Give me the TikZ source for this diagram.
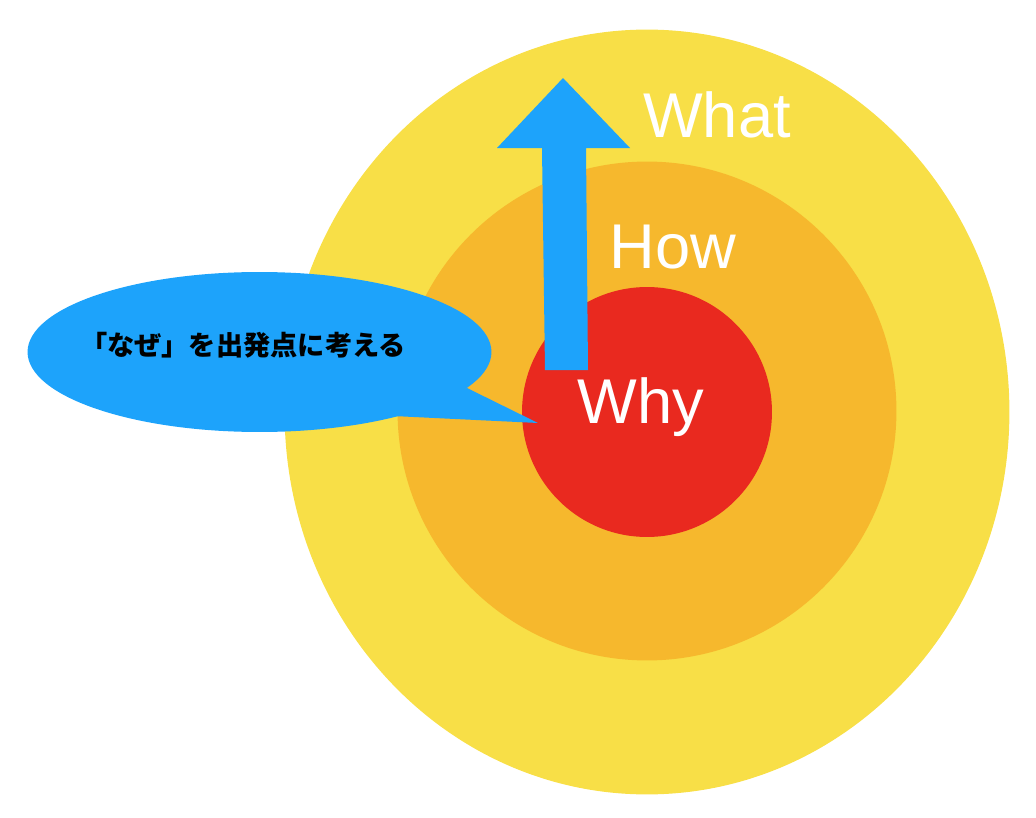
\documentclass[tikz,border=0pt]{standalone}
\usepackage{fontspec}
\setmainfont{Liberation Sans}
\newfontfamily\jpfont{Noto Sans CJK JP}
\usetikzlibrary{shapes.geometric}
\definecolor{ringyellow}{HTML}{F8DF47}
\definecolor{ringorange}{HTML}{F6B82D}
\definecolor{ringred}{HTML}{E9291F}
\definecolor{bubbleblue}{HTML}{1DA3FB}

\begin{document}
\begin{tikzpicture}[
    x=0.02cm, y=-0.02cm,
    ring/.style={circle, inner sep=0pt},
    ringtext/.style={text=white, font=\fontsize{36}{42}\selectfont, anchor=base, inner sep=0pt}
]
  \useasboundingbox (0,0) rectangle (1036,818);

  % Rings (outside in)
  \node[ellipse, fill=ringyellow, inner sep=0pt, minimum width=14.5cm, minimum height=15.3cm] (what) at (647,412) {};
  \node[ring, fill=ringorange, minimum size=9.98cm] (how) at (647,411) {};
  \node[ring, fill=ringred, minimum size=5cm] (why) at (647,412) {};

  % Arrow going out from the centre
  \fill[bubbleblue] (545,370) -- (542,148) -- (497,148) -- (563,78) -- (630,148)
    -- (586,148) -- (588,370) -- cycle;

  % Speech bubble
  \node[ellipse, fill=bubbleblue, inner sep=0pt, minimum width=9.28cm, minimum height=3.2cm] (bubble) at (259.5,352) {};
  \fill[bubbleblue] (467,388) -- (538,423) -- (393,416) -- cycle;
  \node[font=\jpfont\bfseries\fontsize{15.5}{19}\selectfont, inner sep=0pt] (idea) at (243,345) {「なぜ」を出発点に考える};

  % Ring names
  \node[ringtext] (whatname) at (717,137) {What};
  \node[ringtext] (howname) at (673,268) {How};
  \node[ringtext] (whyname) at (641,423) {Why};
\end{tikzpicture}
\end{document}
